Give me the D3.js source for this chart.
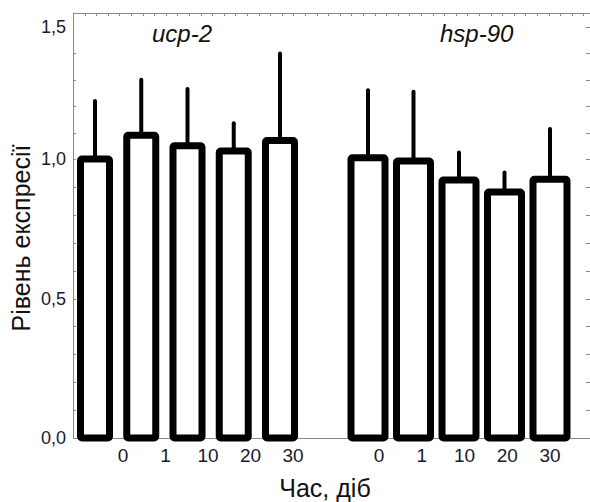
<!DOCTYPE html>
<html>
<head>
<meta charset="utf-8">
<script src="https://cdn.jsdelivr.net/npm/d3@7"></script>
<style>
  html, body { margin: 0; padding: 0; background: #fff; }
  svg { display: block; font-family: "Liberation Sans", Arial, sans-serif; }
</style>
</head>
<body>
<svg id="chart" width="590" height="502"></svg>
<script>
// Expression level per gene, relative to control, over time (days)
const genes = ["ucp-2", "hsp-90"];
const timeLabels = ["0", "1", "10", "20", "30"];
const ucp2Mean = [1.00, 1.09, 1.05, 1.03, 1.07];
const ucp2Upper = [1.22, 1.30, 1.265, 1.135, 1.40];
const hsp90Mean = [1.005, 0.993, 0.925, 0.882, 0.927];
const hsp90Upper = [1.26, 1.255, 1.025, 0.952, 1.114];
const yTicks = [0, 0.5, 1.0, 1.5];
const yTickText = ["0,0", "0,5", "1,0", "1,5"];

(function draw() {
  const svg = d3.select("#chart");
  const plotLeft = 73, plotRight = 589, plotTop = 13, plotBottom = 438;
  const axisColor = "#8a8a8a";

  // Vertical scale (value axis)
  const y = d3.scaleLinear().domain([0, 1, 1.5]).range([plotBottom, 159, 27]);

  // Horizontal scales for each gene group: bars and their time labels
  const groups = [
    { name: genes[0], mean: ucp2Mean, upper: ucp2Upper,
      bar: d3.scalePoint().domain(d3.range(5)).range([95, 280]),
      lab: d3.scalePoint().domain(timeLabels).range([123, 293]),
      width: 29, title: [152, 42] },
    { name: genes[1], mean: hsp90Mean, upper: hsp90Upper,
      bar: d3.scalePoint().domain(d3.range(5)).range([368, 550]),
      lab: d3.scalePoint().domain(timeLabels).range([379, 550]),
      width: 34, title: [440, 42] }
  ];

  // Frame
  const frame = svg.append("g").attr("stroke", axisColor).attr("stroke-width", 1).attr("fill", "none");
  frame.append("line").attr("x1", plotLeft + 0.5).attr("x2", plotLeft + 0.5).attr("y1", plotTop).attr("y2", plotBottom + 0.5);
  frame.append("line").attr("x1", plotLeft).attr("x2", 590).attr("y1", plotTop + 0.5).attr("y2", plotTop + 0.5);
  frame.append("line").attr("x1", plotLeft).attr("x2", 590).attr("y1", plotBottom + 0.5).attr("y2", plotBottom + 0.5);

  // Minor ticks on the value axes (every 0.1), inward on both sides
  const minor = d3.range(0, 15).map(i => i / 10);
  frame.selectAll(".ml").data(minor).join("line")
    .attr("x1", plotLeft).attr("x2", plotLeft + 3)
    .attr("y1", d => Math.round(y(d)) + 0.5).attr("y2", d => Math.round(y(d)) + 0.5);
  frame.selectAll(".mr").data(minor.concat([1.5])).join("line")
    .attr("x1", plotRight - 3).attr("x2", plotRight + 1)
    .attr("y1", d => Math.round(y(d)) + 0.5).attr("y2", d => Math.round(y(d)) + 0.5);

  // Minor ticks along the top edge
  const xTop = d3.scaleLinear().domain([0, 45]).range([plotLeft, plotRight + 6]);
  frame.selectAll(".mt").data(d3.range(1, 45)).join("line")
    .attr("x1", d => Math.round(xTop(d)) + 0.5).attr("x2", d => Math.round(xTop(d)) + 0.5)
    .attr("y1", plotTop).attr("y2", plotTop + 3);

  // Value axis labels
  svg.append("g").selectAll("text").data(yTicks).join("text")
    .attr("x", 66).attr("y", d => y(d)).attr("dy", "0.36em")
    .attr("text-anchor", "end").attr("font-size", 18).attr("fill", "#1a1a2e")
    .text((d, i) => yTickText[i]);

  // Bars with upper error whiskers
  groups.forEach(g => {
    const layer = svg.append("g");
    layer.selectAll("line.err").data(g.mean).join("line")
      .attr("class", "err")
      .attr("x1", (d, i) => g.bar(i)).attr("x2", (d, i) => g.bar(i))
      .attr("y1", d => y(d)).attr("y2", (d, i) => y(g.upper[i]))
      .attr("stroke", "#000").attr("stroke-width", 4).attr("stroke-linecap", "round");
    layer.selectAll("rect").data(g.mean).join("rect")
      .attr("x", (d, i) => g.bar(i) - g.width / 2).attr("width", g.width)
      .attr("y", d => y(d)).attr("height", d => y(0) - y(d))
      .attr("fill", "#fff").attr("stroke", "#000").attr("stroke-width", 7)
      .attr("stroke-linejoin", "round").attr("rx", 1.5);

    // Time labels
    svg.append("g").selectAll("text").data(timeLabels).join("text")
      .attr("x", d => g.lab(d)).attr("y", 462)
      .attr("text-anchor", "middle").attr("font-size", 19).attr("fill", "#1a1a2e")
      .text(d => d);

    // Gene name
    svg.append("text").attr("x", g.title[0]).attr("y", g.title[1])
      .attr("font-size", 24).attr("font-style", "italic").attr("fill", "#111")
      .text(g.name);
  });

  // Axis titles
  svg.append("text")
    .attr("transform", "translate(30,238) rotate(-90)")
    .attr("text-anchor", "middle").attr("font-size", 25).attr("fill", "#111")
    .text("Рівень експресії");
  svg.append("text")
    .attr("x", 325).attr("y", 497)
    .attr("text-anchor", "middle").attr("font-size", 25).attr("fill", "#111")
    .text("Час, діб");
})();
</script>
</body>
</html>
